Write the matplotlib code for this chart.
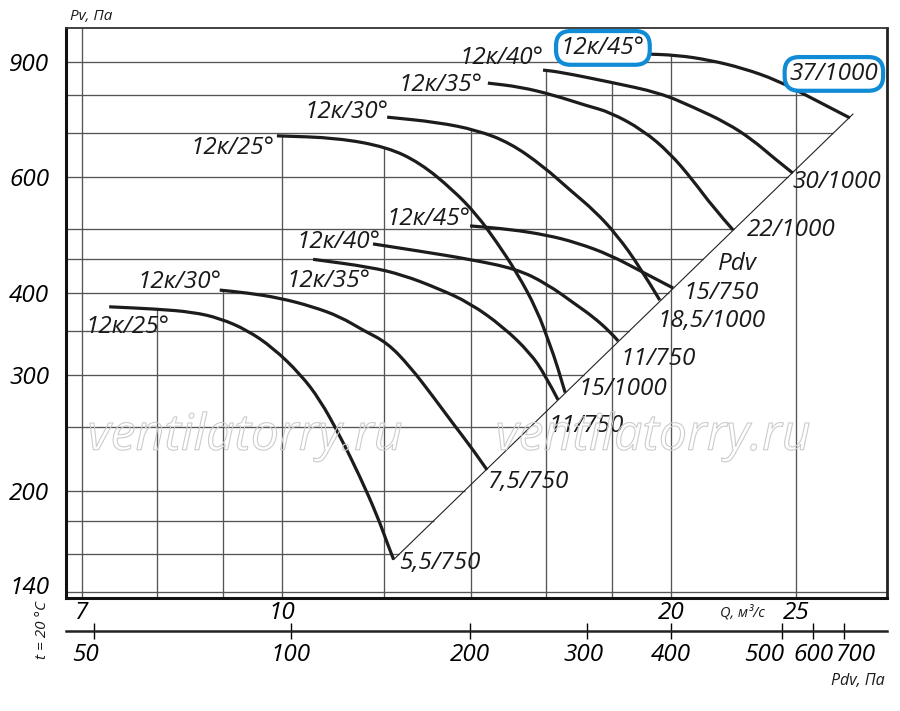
import numpy as np
import matplotlib
matplotlib.use("Agg")
import matplotlib.pyplot as plt
from matplotlib import patheffects as pe
from matplotlib import transforms as mtrans
from matplotlib.path import Path
from matplotlib.patches import PathPatch
from matplotlib.ticker import NullLocator, NullFormatter

# ---------------- data ----------------
# lower group (750 rpm)
l25_q = [7.35, 8.00, 8.53, 8.95, 9.40, 9.84, 10.33, 10.70, 11.09, 11.49, 11.85, 12.08, 12.20]
l25_p = [381, 378, 374, 366, 351, 330, 301, 275, 242, 210, 183, 165, 157]
l30_q = [8.95, 9.40, 9.96, 10.57, 11.09, 11.55, 12.06, 12.56, 13.09, 13.56, 14.05, 14.41]
l30_p = [404, 400, 393, 381, 368, 351, 336, 309, 278, 253, 231, 215]
l35_q = [10.57, 11.70, 12.40, 13.18, 13.98, 14.83, 15.56, 15.98, 16.35]
l35_p = [450, 438, 426, 407, 386, 355, 324, 300, 275]
l40_q = [11.76, 12.79, 13.98, 15.19, 16.03, 16.91, 17.40, 17.94, 18.20]
l40_p = [475, 463, 450, 435, 413, 383, 368, 349, 338]
l45_q = [13.98, 15.01, 16.03, 16.91, 17.94, 19.02, 20.07]
l45_p = [506, 500, 490, 477, 457, 430, 407]
# upper group (1000 rpm)
u25_q = [9.91, 11.03, 12.06, 12.79, 13.56, 14.15, 14.66, 15.19, 15.75, 16.12, 16.32, 16.56]
u25_p = [694, 689, 667, 631, 574, 526, 478, 430, 377, 333, 311, 282]
u30_q = [12.06, 13.18, 14.15, 15.01, 15.92, 16.70, 17.46, 18.16, 18.92, 19.60]
u30_p = [741, 728, 708, 677, 624, 574, 533, 490, 438, 390]
u35_q = [14.43, 15.28, 16.21, 17.22, 17.94, 19.02, 19.96, 20.79, 21.54, 22.33]
u35_p = [835, 824, 801, 771, 754, 708, 653, 594, 541, 499]
u40_q = [15.92, 16.41, 17.94, 19.60, 20.79, 22.09, 23.13, 23.97, 24.84]
u40_p = [874, 868, 838, 807, 768, 726, 684, 644, 609]
u45_q = [19.02, 20.21, 21.43, 22.72, 24.14, 25.60, 27.50]
u45_p = [925, 921, 905, 880, 844, 795, 739]

# Pdv system line (diagonal)
pdv_line_q = [12.20, 27.65]
pdv_line_p = [157, 749]

# axis ticks / grid
grid_q = [7, 8, 9, 10, 12, 14, 16, 18, 20, 25]
q_ticks = [7, 10, 20, 25]
grid_p = [140, 160, 180, 200, 250, 300, 350, 400, 450, 500, 600, 700, 800, 900]
p_ticks = [140, 200, 300, 400, 600, 900]
pdv_labels = ["50", "100", "200", "300", "400", "500", "600", "700"]
pdv_tick_q = [7.16, 10.16, 13.98, 17.21, 19.98, 24.35, 25.76, 27.21]

blade_labels = ["12к/25°", "12к/30°", "12к/35°", "12к/40°", "12к/45°"]
lower_motor = ["5,5/750", "7,5/750", "11/750", "11/750", "15/750"]
upper_motor = ["15/1000", "18,5/1000", "22/1000", "30/1000", "37/1000"]

# ---------------- figure ----------------
W, H = 900, 711
FONT = ["Open Sans", "DejaVu Sans"]
plt.rcParams["font.family"] = FONT
plt.rcParams["font.style"] = "italic"
FS = 17.5

fig = plt.figure(figsize=(W / 100, H / 100), dpi=100)
L, R, T, B = 66, 887, 28, 598
ax = fig.add_axes([L / W, 1 - B / H, (R - L) / W, (B - T) / H])
ax.set_xscale("log")
ax.set_yscale("log")
XLIM = (6.806, 29.38)
YLIM = (137.2, 1013)
ax.set_xlim(*XLIM)
ax.set_ylim(*YLIM)

lower = [(l25_q, l25_p), (l30_q, l30_p), (l35_q, l35_p), (l40_q, l40_p), (l45_q, l45_p)]
upper = [(u25_q, u25_p), (u30_q, u30_p), (u35_q, u35_p), (u40_q, u40_p), (u45_q, u45_p)]
allc = lower + upper


def interp_log(x, xs, ys):
    return 10 ** np.interp(np.log10(x), np.log10(xs), np.log10(ys))


def smooth_path(q, p):
    """Quadratic Bezier path through the read points (drawn by matplotlib)."""
    pts = list(zip(q, p))
    gm = lambda a, b: (np.sqrt(a[0] * b[0]), np.sqrt(a[1] * b[1]))
    verts = [pts[0], gm(pts[0], pts[1])]
    codes = [Path.MOVETO, Path.LINETO]
    for i in range(1, len(pts) - 1):
        end = gm(pts[i], pts[i + 1]) if i < len(pts) - 2 else pts[-1]
        verts += [pts[i], end]
        codes += [Path.CURVE3, Path.CURVE3]
    return Path(verts, codes)


GRID = "#555555"
# vertical grid lines: from bottom up to the upper envelope of curves
for q in grid_q:
    tops = [interp_log(q, cq, cp) for cq, cp in allc if cq[0] <= q <= cq[-1]]
    top = max(tops) if tops else YLIM[1]
    ax.vlines(q, YLIM[0], top, color=GRID, lw=0.95, zorder=1)

# horizontal grid lines: from left up to the diagonal / top curve
lq = np.log10(pdv_line_q)
lp = np.log10(pdv_line_p)
slope = (lp[1] - lp[0]) / (lq[1] - lq[0])
for p in grid_p:
    if p < pdv_line_p[0]:
        end = XLIM[1]
    elif p <= pdv_line_p[1]:
        end = 10 ** (lq[0] + (np.log10(p) - lp[0]) / slope)
    else:
        end = interp_log(p, u45_p[::-1], u45_q[::-1])
    ax.hlines(p, XLIM[0], end, color=GRID, lw=0.95, zorder=1)

# diagonal Pdv line
ax.plot(pdv_line_q, pdv_line_p, color="#222222", lw=0.8, zorder=2)

# curves
for cq, cp in allc:
    ax.add_patch(PathPatch(smooth_path(cq, cp), fill=False, ec="#1c1c1c", lw=2.3,
                           capstyle="butt", joinstyle="round", zorder=3))

# ticks
ax.xaxis.set_minor_locator(NullLocator())
ax.yaxis.set_minor_locator(NullLocator())
ax.xaxis.set_minor_formatter(NullFormatter())
ax.yaxis.set_minor_formatter(NullFormatter())
ax.set_xticks(q_ticks, [str(v) for v in q_ticks])
ax.set_yticks(p_ticks, [str(v) for v in p_ticks])
ax.tick_params(axis="x", length=0, pad=2, labelsize=FS)
ax.tick_params(axis="y", length=0, pad=12, labelsize=FS)
for lbl in ax.get_yticklabels():
    if lbl.get_text() == "140":
        lbl.set_transform(lbl.get_transform() + mtrans.ScaledTranslation(0, 0.07, fig.dpi_scale_trans))

for s in ["left", "bottom"]:
    ax.spines[s].set_linewidth(2.2)
    ax.spines[s].set_color("#111111")
ax.spines["right"].set_linewidth(2.0)
ax.spines["right"].set_color("#222222")
ax.spines["top"].set_linewidth(1.3)
ax.spines["top"].set_color("#333333")

# secondary Pdv axis
sec = ax.secondary_xaxis((B - 630.7) / (B - T))
sec.xaxis.set_minor_locator(NullLocator())
sec.xaxis.set_minor_formatter(NullFormatter())
sec.set_xticks(pdv_tick_q, pdv_labels)
sec.tick_params(axis="x", direction="inout", length=12, width=1.0, pad=3, labelsize=FS)
sec.spines["bottom"].set_linewidth(1.8)
sec.spines["bottom"].set_color("#222222")
label_shift = {"50": -9, "300": -3, "500": -17, "700": 12}
for lbl in sec.get_xticklabels():
    d = label_shift.get(lbl.get_text(), 0)
    if d:
        lbl.set_transform(lbl.get_transform() + mtrans.ScaledTranslation(d / 100, 0, fig.dpi_scale_trans))

BLUE = "#108bd6"
TXT = dict(fontsize=FS, color="#1a1a1a", zorder=6)

# label offsets (dx, dy, ha) in pixels relative to curve start / end
lower_start = [(18, -20, "center"), (2, 8, "right"), (57, -22, "right"), (7, 2, "right"), (0, 7, "right")]
upper_start = [(-2, -12, "right"), (1, 5, "right"), (-5, -2, "right"), (0, 12, "right"), (2, 6, "right")]
lower_end = [(5, -3, "left"), (1, -12, "left"), (-10, -26, "left"), (2, -18, "left"), (10, -5, "left")]
upper_end = [(13, 4, "left"), (-2, -21, "left"), (14, 0, "left"), (0, -9, "left"), (-16, 44, "center")]

box = dict(boxstyle="round,pad=0.2,rounding_size=0.6", fc="white", ec=BLUE, lw=3)

for i, (cq, cp) in enumerate(lower):
    dx, dy, ha = lower_start[i]
    ax.annotate(blade_labels[i], (cq[0], cp[0]), xytext=(dx, dy), textcoords="offset pixels",
                ha=ha, va="center", **TXT)
    dx, dy, ha = lower_end[i]
    ax.annotate(lower_motor[i], (cq[-1], cp[-1]), xytext=(dx, dy), textcoords="offset pixels",
                ha=ha, va="center", **TXT)

for i, (cq, cp) in enumerate(upper):
    dx, dy, ha = upper_start[i]
    extra = {"bbox": box} if i == 4 else {}
    ax.annotate(blade_labels[i], (cq[0], cp[0]), xytext=(dx, dy), textcoords="offset pixels",
                ha=ha, va="center", **TXT, **extra)
    dx, dy, ha = upper_end[i]
    ax.annotate(upper_motor[i], (cq[-1], cp[-1]), xytext=(dx, dy), textcoords="offset pixels",
                ha=ha, va="center", annotation_clip=False, **TXT, **extra)


def ftext(px, py, s, **kw):
    fig.text(px / W, 1 - py / H, s, **kw)


ftext(737, 264, "Pdv", fontsize=FS, ha="center", va="center", color="#1a1a1a")
ftext(70, 17, "Pv, Па", fontsize=11, ha="left", va="center", color="#1a1a1a")
ftext(742, 613, "Q, м³/с", fontsize=10.5, ha="center", va="center", color="#1a1a1a")
ftext(885, 681, "Pdv, Па", fontsize=11.5, ha="right", va="center", color="#1a1a1a")
ftext(42, 630, "t = 20 °C", fontsize=11, ha="center", va="center", rotation=90, color="#1a1a1a")

# watermark (outlined text)
for cx in (245, 653):
    ftext(cx, 437, "ventilatorry.ru", fontsize=36, ha="center", va="center", color="none",
          path_effects=[pe.Stroke(linewidth=0.8, foreground="#cccccc")], zorder=0)

fig.savefig("out.png", dpi=100, facecolor="white")
